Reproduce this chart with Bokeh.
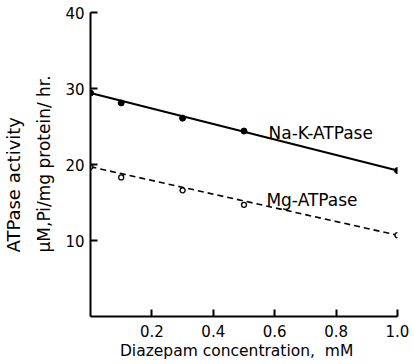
from bokeh.plotting import figure
from bokeh.models import FixedTicker, Range1d, Label, Title
from bokeh.embed import file_html
from bokeh.resources import INLINE

# Data
conc = [0.0, 0.1, 0.3, 0.5, 1.0]
nak_activity = [29.4, 28.1, 26.1, 24.4, 19.2]
mg_activity = [19.7, 18.3, 16.6, 14.7, 10.7]
fit_x = [0.0, 1.0]
nak_fit = [29.4, 19.2]
mg_fit = [19.7, 10.7]
x_ticks = [0.2, 0.4, 0.6, 0.8, 1.0]
x_tick_labels = ["0.2", "0.4", "0.6", "0.8", "1.0"]
y_ticks = [10, 20, 30, 40]
series_names = ["Na-K-ATPase", "Mg-ATPase"]
y_label_lines = ["ATPase activity", "μM,Pi/mg protein/ hr."]
x_label = "Diazepam\u00a0concentration,\u00a0\u00a0mM\u00a0\u00a0\u00a0"

FONT = "DejaVu Sans"

p = figure(width=414, height=364, output_backend="svg", toolbar_location=None,
           x_range=Range1d(0, 1.0), y_range=Range1d(0, 40),
           min_border_left=90, min_border_right=17, min_border_top=12, min_border_bottom=48)
p.outline_line_color = None
p.xgrid.grid_line_color = None
p.ygrid.grid_line_color = None
p.background_fill_color = "white"
p.border_fill_color = "white"

# lines
p.line(fit_x, nak_fit, line_color="black", line_width=2)
p.line(fit_x, mg_fit, line_color="black", line_width=1.6, line_dash="6 4")
# markers
p.scatter(conc, nak_activity, size=6, marker="circle", fill_color="black", line_color="black")
p.scatter(conc, mg_activity, size=5, marker="circle", fill_color="white", line_color="black", line_width=1.3)

# series labels
p.add_layout(Label(x=0.58, y=24.1, text=series_names[0], text_font=FONT, text_font_size="17px",
                   text_color="black", text_align="left", text_baseline="alphabetic"))
p.add_layout(Label(x=0.573, y=15.3, text=series_names[1], text_font=FONT, text_font_size="17px",
                   text_color="black", text_align="left", text_baseline="alphabetic"))

# y axis title: two rotated lines as left-side titles (inner line first)
p.add_layout(Title(text=y_label_lines[1], align="left", offset=64, standoff=17,
                   text_font=FONT, text_font_size="17px", text_font_style="normal",
                   text_color="black"), "left")
p.add_layout(Title(text=y_label_lines[0], align="left", offset=64, standoff=0,
                   text_font=FONT, text_font_size="18px", text_font_style="normal",
                   text_color="black"), "left")

# axes
for ax in (p.xaxis[0], p.yaxis[0]):
    ax.axis_line_width = 2
    ax.axis_line_color = "black"
    ax.major_tick_line_width = 2
    ax.major_tick_line_color = "black"
    ax.major_tick_in = 7
    ax.major_tick_out = 0
    ax.minor_tick_line_color = None
    ax.major_label_text_font = FONT
    ax.major_label_text_font_size = "15px"
    ax.major_label_text_color = "black"
    ax.axis_label_text_font = FONT
    ax.axis_label_text_font_style = "normal"
    ax.axis_label_text_color = "black"

p.xaxis.ticker = FixedTicker(ticks=x_ticks)
p.xaxis.major_label_overrides = {t: l for t, l in zip(x_ticks, x_tick_labels)}
p.xaxis.major_label_standoff = 8
p.xaxis.axis_label = x_label
p.xaxis.axis_label_text_font_size = "15.5px"
p.xaxis.axis_label_standoff = 2

p.yaxis.ticker = FixedTicker(ticks=y_ticks)
p.yaxis.major_label_standoff = 6

open("out.html", "w").write(file_html(p, INLINE))
